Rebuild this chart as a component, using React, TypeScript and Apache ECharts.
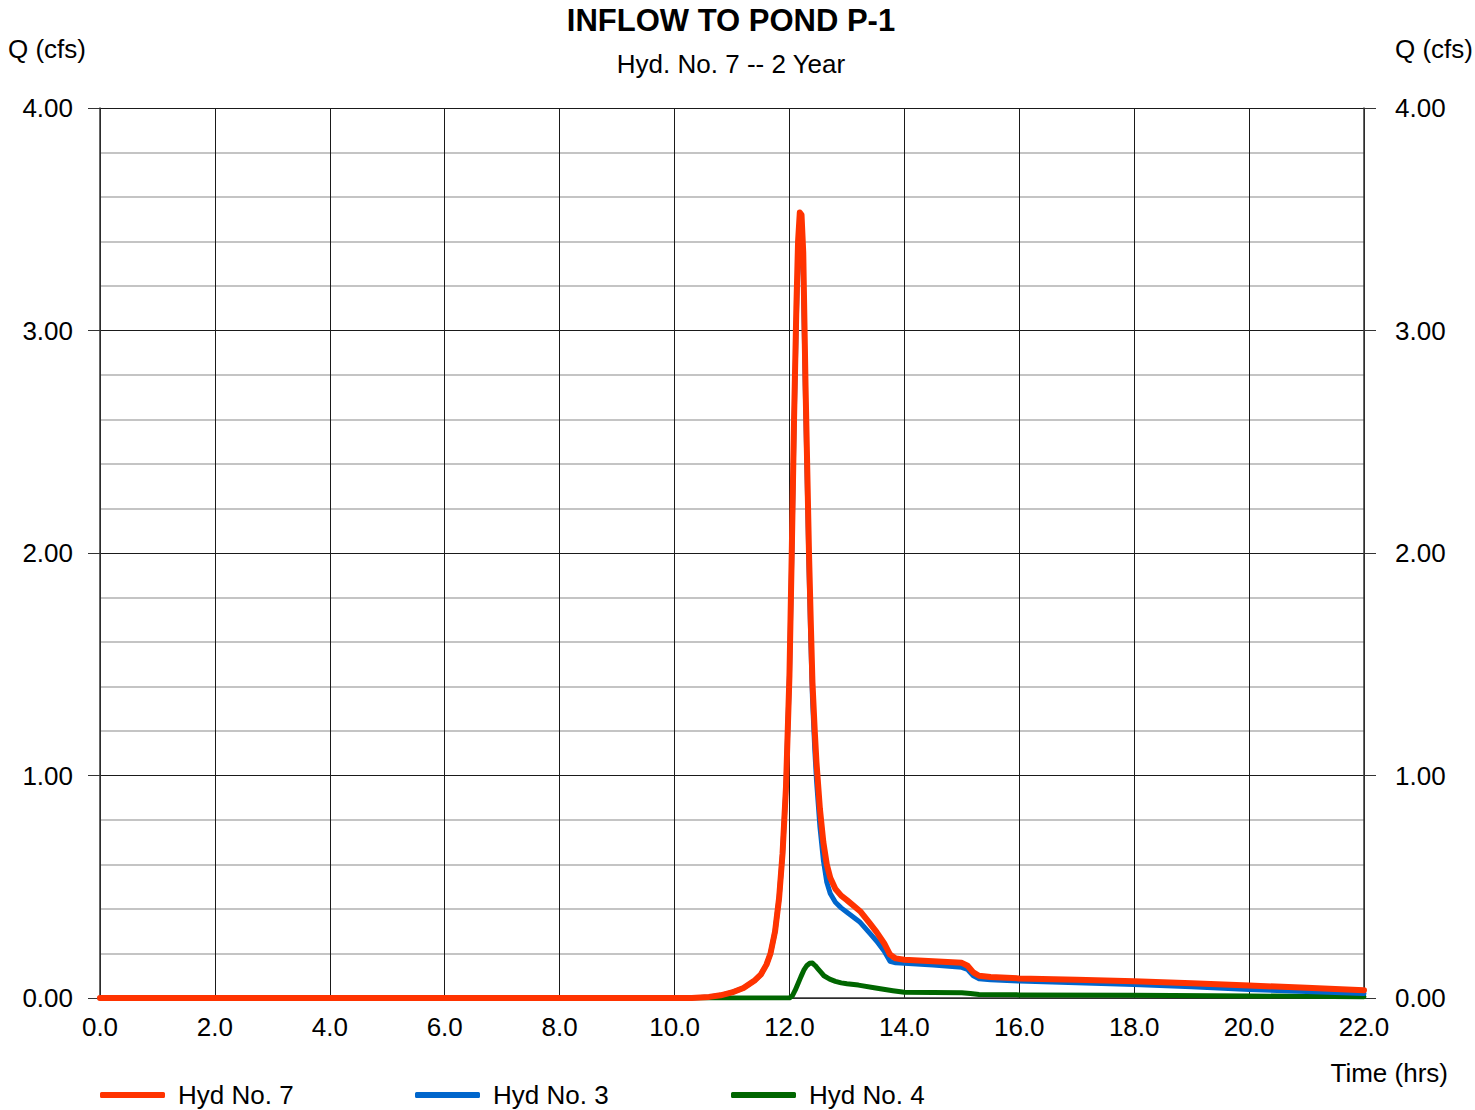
import React, { useEffect, useRef } from "react";
import * as echarts from "echarts";

// ---- data ----
const xTicks = [0, 2, 4, 6, 8, 10, 12, 14, 16, 18, 20, 22];
const yTicks = [0, 1, 2, 3, 4];

const hyd7Time = [0, 10.3, 10.6, 10.8, 11.0, 11.2, 11.4, 11.5, 11.6, 11.67, 11.75, 11.82, 11.88, 11.94, 12.0, 12.04, 12.08, 12.12, 12.15, 12.18, 12.21, 12.24, 12.28, 12.32, 12.34, 12.37, 12.4, 12.44, 12.47, 12.53, 12.59, 12.65, 12.71, 12.8, 12.9, 13.0, 13.23, 13.4, 13.52, 13.65, 13.75, 13.85, 14.0, 14.5, 15.0, 15.1, 15.2, 15.3, 15.5, 16, 17, 18, 19, 20, 21, 22];
const hyd7Q = [0, 0, 0.005, 0.012, 0.025, 0.045, 0.08, 0.105, 0.15, 0.2, 0.3, 0.45, 0.65, 0.95, 1.45, 2.0, 2.6, 3.1, 3.4, 3.53, 3.52, 3.35, 2.75, 2.25, 2.0, 1.7, 1.42, 1.2, 1.06, 0.85, 0.7, 0.6, 0.54, 0.49, 0.46, 0.44, 0.39, 0.335, 0.295, 0.245, 0.195, 0.178, 0.172, 0.165, 0.158, 0.145, 0.115, 0.1, 0.094, 0.088, 0.082, 0.075, 0.066, 0.056, 0.046, 0.035];

const hyd3Time = hyd7Time;
const hyd3Q = [0, 0, 0.005, 0.012, 0.025, 0.045, 0.08, 0.105, 0.15, 0.2, 0.3, 0.45, 0.65, 0.95, 1.45, 1.98, 2.57, 3.05, 3.33, 3.45, 3.43, 3.25, 2.68, 2.18, 1.93, 1.62, 1.35, 1.12, 0.98, 0.77, 0.62, 0.52, 0.47, 0.43, 0.405, 0.385, 0.34, 0.29, 0.255, 0.21, 0.165, 0.158, 0.156, 0.148, 0.138, 0.128, 0.1, 0.087, 0.082, 0.076, 0.069, 0.061, 0.05, 0.038, 0.029, 0.02];

const hyd4Time = [0, 12.0, 12.05, 12.1, 12.15, 12.2, 12.25, 12.3, 12.35, 12.4, 12.45, 12.5, 12.55, 12.6, 12.7, 12.8, 12.9, 13.0, 13.2, 13.5, 13.8, 14.0, 14.5, 15.0, 15.15, 15.3, 16, 18, 20, 22];
const hyd4Q = [0, 0, 0.01, 0.035, 0.065, 0.096, 0.125, 0.145, 0.156, 0.157, 0.145, 0.13, 0.115, 0.1, 0.085, 0.075, 0.068, 0.064, 0.058, 0.045, 0.033, 0.026, 0.025, 0.024, 0.02, 0.016, 0.014, 0.012, 0.009, 0.006];

const seriesNames = ["Hyd No. 7", "Hyd No. 3", "Hyd No. 4"];
const seriesColors = ["#FF3300", "#0066CC", "#006600"];

const FONT = "'Liberation Sans', Arial, sans-serif";

function zip(t: number[], q: number[]) {
  return t.map((x, i) => [x, q[i]]);
}

export default function App() {
  const ref = useRef<HTMLDivElement>(null);

  useEffect(() => {
    if (!ref.current) return;
    const chart = echarts.init(ref.current, null, { renderer: "svg" });
    const gridLeft = 100, gridTop = 108, gridW = 1264, gridH = 890;

    const yAxisBase = {
      type: "value",
      min: yTicks[0],
      max: yTicks[yTicks.length - 1],
      interval: 1,
      axisLine: { show: true, lineStyle: { color: "#333", width: 1.5 } },
      axisTick: { show: true, length: 12, lineStyle: { color: "#333", width: 1 } },
      axisLabel: {
        fontSize: 26,
        fontFamily: FONT,
        color: "#000",
        formatter: (v: number) => v.toFixed(2),
      },
    };

    const legends = seriesNames.map((name, i) => ({
      data: [{ name, icon: "roundRect" }],
      left: [100, 415, 731][i],
      top: 1082,
      itemWidth: 65,
      itemHeight: 6,
      padding: 0,
      textStyle: { fontSize: 26, fontFamily: FONT, color: "#000", padding: [0, 0, 0, 8] },
    }));

    const option: any = {
      animation: false,
      backgroundColor: "#fff",
      grid: { left: gridLeft, top: gridTop, width: gridW, height: gridH, containLabel: false },
      legend: legends,
      graphic: [
        {
          type: "text", x: 731, y: 20,
          style: { text: "INFLOW TO POND P-1", font: `bold 31px ${FONT}`, fill: "#000", textAlign: "center", textVerticalAlign: "middle" },
        },
        {
          type: "text", x: 731, y: 64,
          style: { text: "Hyd. No. 7 -- 2 Year", font: `26px ${FONT}`, fill: "#000", textAlign: "center", textVerticalAlign: "middle" },
        },
        {
          type: "text", x: 8, y: 49,
          style: { text: "Q (cfs)", font: `26px ${FONT}`, fill: "#000", textAlign: "left", textVerticalAlign: "middle" },
        },
        {
          type: "text", x: 1473, y: 49,
          style: { text: "Q (cfs)", font: `26px ${FONT}`, fill: "#000", textAlign: "right", textVerticalAlign: "middle" },
        },
        {
          type: "text", x: 1448, y: 1073,
          style: { text: "Time (hrs)", font: `26px ${FONT}`, fill: "#000", textAlign: "right", textVerticalAlign: "middle" },
        },
      ],
      xAxis: {
        type: "value",
        min: xTicks[0],
        max: xTicks[xTicks.length - 1],
        interval: 2,
        axisLine: { show: true, lineStyle: { color: "#333", width: 1.5 } },
        axisTick: { show: false },
        axisLabel: {
          fontSize: 26,
          fontFamily: FONT,
          color: "#000",
          margin: 16,
          formatter: (v: number) => v.toFixed(1),
        },
        splitLine: { show: true, lineStyle: { color: "#1a1a1a", width: 1 } },
      },
      yAxis: [
        {
          ...yAxisBase,
          position: "left",
          axisLabel: { ...yAxisBase.axisLabel, margin: 27 },
          splitLine: { show: true, lineStyle: { color: "#1a1a1a", width: 1 } },
          minorTick: { show: false, splitNumber: 5 },
          minorSplitLine: { show: true, lineStyle: { color: "#c4c4c4", width: 2 } },
        },
        {
          ...yAxisBase,
          position: "right",
          axisLabel: { ...yAxisBase.axisLabel, margin: 31 },
          splitLine: { show: false },
        },
      ],
      series: [
        {
          name: seriesNames[2], type: "line", data: zip(hyd4Time, hyd4Q), symbol: "none", z: 3,
          color: seriesColors[2],
          lineStyle: { color: seriesColors[2], width: 5, cap: "round", join: "round" },
        },
        {
          name: seriesNames[1], type: "line", data: zip(hyd3Time, hyd3Q), symbol: "none", z: 4,
          color: seriesColors[1],
          lineStyle: { color: seriesColors[1], width: 5, cap: "round", join: "round" },
        },
        {
          name: seriesNames[0], type: "line", data: zip(hyd7Time, hyd7Q), symbol: "none", z: 5,
          color: seriesColors[0],
          lineStyle: { color: seriesColors[0], width: 6, cap: "round", join: "round" },
        },
      ],
    };
    chart.setOption(option);
    return () => chart.dispose();
  }, []);

  return (
    <div
      ref={ref}
      style={{ position: "fixed", left: 0, top: 0, width: 1475, height: 1110, background: "#fff" }}
    />
  );
}
